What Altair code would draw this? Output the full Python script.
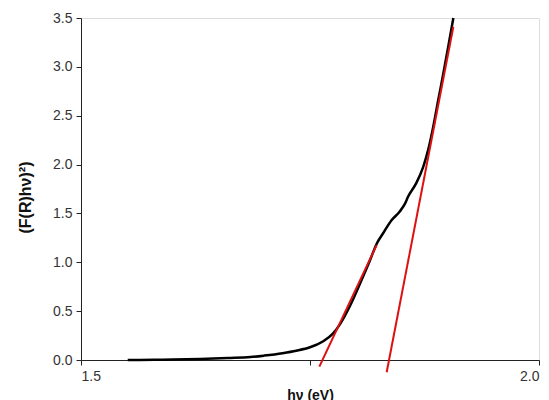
import altair as alt
import pandas as pd

# Black measured curve
hv = [1.551, 1.58, 1.60, 1.63, 1.66, 1.685, 1.70, 1.72, 1.735, 1.75, 1.764, 1.775,
      1.783, 1.794, 1.805, 1.8155, 1.8228, 1.830, 1.839, 1.848, 1.8537, 1.857,
      1.866, 1.8737, 1.879, 1.8846, 1.890, 1.8955, 1.901, 1.9065]
fr = [0.0, 0.002, 0.004, 0.01, 0.02, 0.03, 0.045, 0.07, 0.095, 0.13, 0.19, 0.27,
      0.37, 0.56, 0.79, 1.02, 1.19, 1.30, 1.43, 1.52, 1.60, 1.67,
      1.81, 1.98, 2.15, 2.39, 2.66, 2.93, 3.21, 3.50]

# Red tangent lines (endpoints)
tan_id = ["t1", "t1", "t2", "t2"]
tan_x = [1.7602, 1.8228, 1.8337, 1.9065]
tan_y = [-0.068, 1.177, -0.126, 3.41]

y_ticks = [0.0, 0.25, 0.5, 0.75, 1.0, 1.25, 1.5, 1.75, 2.0, 2.25, 2.5, 2.75, 3.0, 3.25, 3.5]
x_ticks = [1.5, 1.75, 2.0]

curve = pd.DataFrame({"hv": hv, "fr": fr})
tang = pd.DataFrame({"id": tan_id, "hv": tan_x, "fr": tan_y})

FONT = "Liberation Sans"
AX = "#222222"

xscale = alt.Scale(domain=[1.5, 2.0], nice=False, zero=False)
yscale = alt.Scale(domain=[0, 3.5], nice=False, zero=False)

xaxis = alt.Axis(
    values=x_ticks,
    labelExpr="datum.value == 1.75 ? '' : format(datum.value, '.1f')",
    title="hν (eV)",
    grid=False, tickSize=5, tickColor=AX, domainColor=AX,
    labelFont=FONT, labelFontSize=14, labelColor="#333333", labelPadding=4,
    titleFont=FONT, titleFontSize=14, titleFontWeight="bold", titleColor="#111111",
    titlePadding=5,
)
yaxis = alt.Axis(
    values=y_ticks,
    labelExpr="datum.value % 0.5 == 0 ? format(datum.value, '.1f') : ''",
    title="(F(R)hν)²)",
    grid=False,
    tickSize={"condition": {"test": "datum.value % 0.5 == 0", "value": 5}, "value": 3},
    tickColor=AX, domainColor=AX,
    labelFont=FONT, labelFontSize=14, labelColor="#333333", labelPadding=4,
    titleFont=FONT, titleFontSize=16, titleFontWeight="bold", titleColor="#111111",
    titleX=-56, titleY=179, titleBaseline="middle", titleAlign="center", titleAngle=270,
)

line = alt.Chart(curve).mark_line(color="black", strokeWidth=2.5, interpolate="monotone").encode(
    x=alt.X("hv:Q", scale=xscale, axis=xaxis),
    y=alt.Y("fr:Q", scale=yscale, axis=yaxis),
)
red = alt.Chart(tang).mark_line(color="#dd1111", strokeWidth=2).encode(
    x=alt.X("hv:Q", scale=xscale),
    y=alt.Y("fr:Q", scale=yscale),
    detail="id:N",
)

chart = alt.layer(line, red).properties(
    width=458, height=342,
    autosize=alt.AutoSizeParams(type="none"),
    padding={"left": 81, "top": 18, "right": 10, "bottom": 40},
).configure_view(stroke=None).configure(background="white")

chart.save("out.html", embed_options={"renderer": "svg", "actions": False})
